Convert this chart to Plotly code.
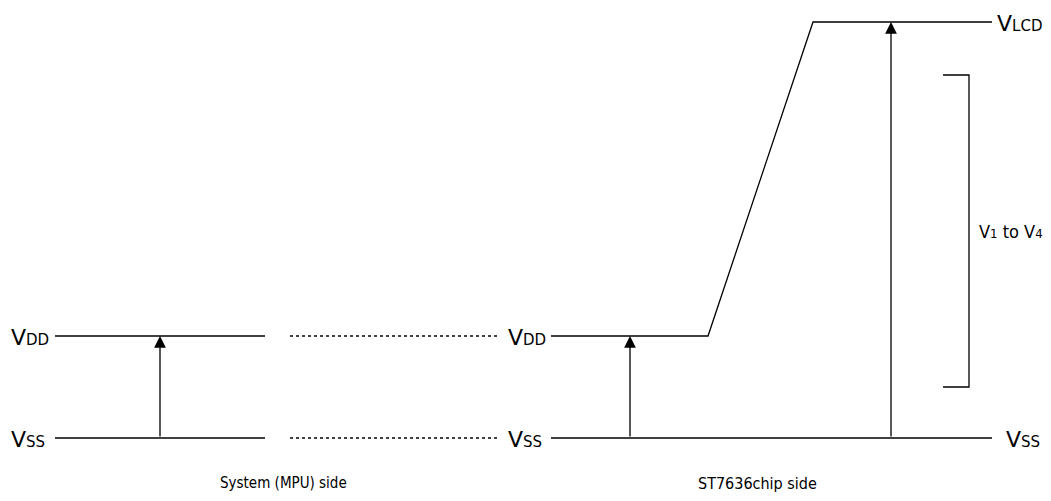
import plotly.graph_objects as go

# levels (y measured upward from VSS)
vss, vdd, vlcd = 0, 102, 416
bracket_top, bracket_bot = 363, 51

# horizontal positions
mpu_line = [55, 265]
dot_line = [290, 497]
chip_x = [551, 708, 813, 992]
chip_y = [vdd, vdd, vlcd, vlcd]
chip_vss = [551, 992]
arrow_mpu = 160
arrow_chip_vdd = 630
arrow_chip_vlcd = 891
bracket_x = [943, 969, 969, 943]
bracket_y = [bracket_top, bracket_top, bracket_bot, bracket_bot]

line = dict(color="black", width=1.3)
fig = go.Figure()

for yy in [vdd, vss]:
    fig.add_trace(go.Scatter(x=mpu_line, y=[yy, yy], mode="lines", line=line))
    fig.add_trace(go.Scatter(x=dot_line, y=[yy, yy], mode="lines",
                             line=dict(color="black", width=1.3, dash="dot")))
fig.add_trace(go.Scatter(x=chip_x, y=chip_y, mode="lines", line=line))
fig.add_trace(go.Scatter(x=chip_vss, y=[vss, vss], mode="lines", line=line))
fig.add_trace(go.Scatter(x=bracket_x, y=bracket_y, mode="lines", line=line))

for ax_, top in [(arrow_mpu, vdd), (arrow_chip_vdd, vdd), (arrow_chip_vlcd, vlcd)]:
    fig.add_annotation(x=ax_, y=top, ax=ax_, ay=vss, xref="x", yref="y",
                       axref="x", ayref="y", showarrow=True, arrowhead=2,
                       arrowsize=1.8, arrowwidth=1.3, arrowcolor="black", text="")

def vlabel(sub):
    return "V<span style='font-size:15px'>" + sub + "</span>"

lab_font = dict(family="DejaVu Sans", size=22, color="black")
labels = [
    (9, vdd, vlabel("DD")), (9, vss, vlabel("SS")),
    (506, vdd, vlabel("DD")), (506, vss, vlabel("SS")),
    (995, vlcd, vlabel("LCD")), (1004, vss, vlabel("SS")),
]
for x0, y0, t in labels:
    fig.add_annotation(x=x0, y=y0, text=t, showarrow=False, xanchor="left",
                       yanchor="middle", font=lab_font, yshift=-1)

fig.add_annotation(x=977, y=207, text="V<span style='font-size:13px'>1</span> to V<span style='font-size:13px'>4</span>",
                   showarrow=False, xanchor="left", yanchor="middle",
                   font=dict(family="DejaVu Sans Condensed, DejaVu Sans", size=18, color="black"))

side_font = dict(family="DejaVu Sans Condensed, DejaVu Sans", size=15, color="black")
fig.add_annotation(x=283, y=-45, text="System (MPU) side", showarrow=False, font=side_font)
fig.add_annotation(x=757, y=-45, text="ST7636chip side", showarrow=False,
                   font=dict(family="DejaVu Sans Condensed, DejaVu Sans", size=16, color="black"))

# the page body has an 8px margin, so the axis ranges are offset by 8px
fig.update_layout(
    width=1051, height=501, showlegend=False,
    margin=dict(l=0, r=0, t=0, b=0),
    plot_bgcolor="white", paper_bgcolor="white",
    xaxis=dict(range=[8, 1059], visible=False),
    yaxis=dict(range=[-71, 430], visible=False),
)
fig.write_html("out.html")
